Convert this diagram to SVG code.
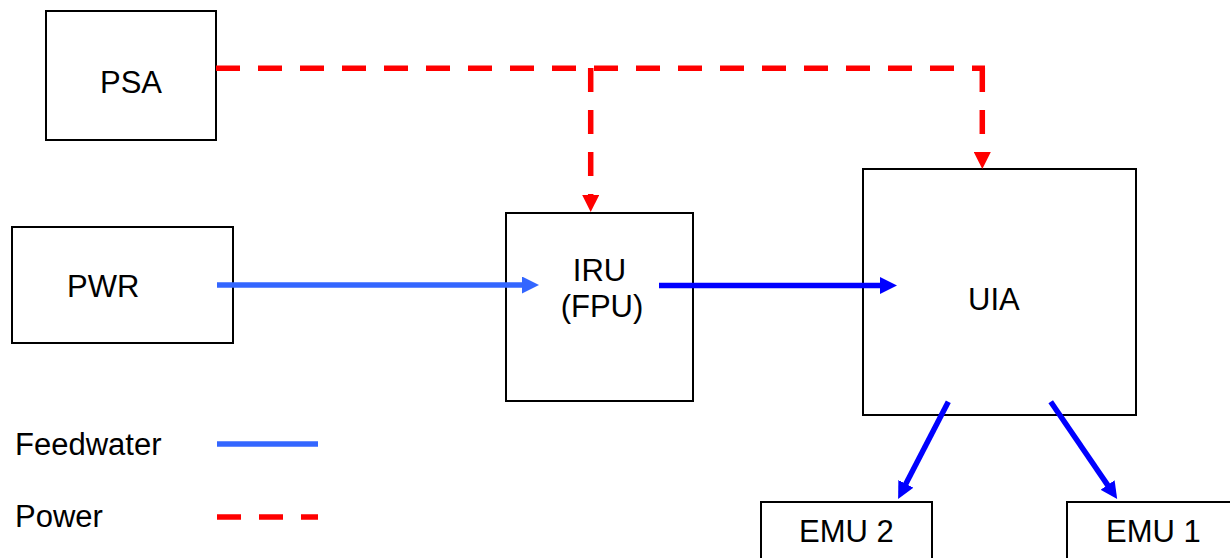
<svg xmlns="http://www.w3.org/2000/svg" width="1230" height="558" viewBox="0 0 1230 558">
<style>
.box{fill:#fff;stroke:#000;stroke-width:2}
.lbl{font-family:"Liberation Sans",Arial,sans-serif;font-size:31px;fill:#000}
.feed{stroke:#3366ff;stroke-width:5.5;fill:none}
.feed2{stroke:#0000ff;stroke-width:5.5;fill:none}
.pwr{stroke:#ff0000;stroke-width:5.5;fill:none;stroke-dasharray:24 18}
</style>
<defs>
<marker id="ahLight" markerUnits="userSpaceOnUse" viewBox="0 0 17 17" refX="2" refY="8.5" markerWidth="17" markerHeight="17" orient="auto"><path d="M0,0 L17,8.5 L0,17 z" fill="#3366ff"/></marker>
<marker id="ahBlue" markerUnits="userSpaceOnUse" viewBox="0 0 17 17" refX="2" refY="8.5" markerWidth="17" markerHeight="17" orient="auto"><path d="M0,0 L17,8.5 L0,17 z" fill="#0000ff"/></marker>
<marker id="ahRed" markerUnits="userSpaceOnUse" viewBox="0 0 17 17" refX="0" refY="8.5" markerWidth="17" markerHeight="17" orient="auto"><path d="M0,0 L17,8.5 L0,17 z" fill="#ff0000"/></marker>
</defs>
<g id="node-psa"><rect class="box" x="46" y="11" width="170" height="129"/><text class="lbl" x="131" y="93" text-anchor="middle">PSA</text></g>
<g id="node-pwr"><rect class="box" x="12" y="227" width="221" height="116"/><text class="lbl" x="67" y="297">PWR</text></g>
<g id="node-iru"><rect class="box" x="506" y="213" width="187" height="188"/><text class="lbl" x="599.5" y="281" text-anchor="middle">IRU</text><text class="lbl" x="602" y="317" text-anchor="middle">(FPU)</text></g>
<g id="node-uia"><rect class="box" x="863" y="169" width="273" height="246"/><text class="lbl" x="968" y="310">UIA</text></g>
<g id="node-emu2"><rect class="box" x="761" y="502" width="171" height="70"/><text class="lbl" x="799" y="542">EMU 2</text></g>
<g id="node-emu1"><rect class="box" x="1067" y="502" width="180" height="70"/><text class="lbl" x="1106" y="542">EMU 1</text></g>
<g id="connectors">
<line class="feed" x1="217" y1="285" x2="524" y2="285" marker-end="url(#ahLight)"/>
<line class="feed2" x1="659" y1="285.5" x2="882" y2="285.5" marker-end="url(#ahBlue)"/>
<line class="feed2" x1="948.3" y1="401.7" x2="905" y2="485.6" marker-end="url(#ahBlue)"/>
<line class="feed2" x1="1050.7" y1="401.7" x2="1108.7" y2="486.6" marker-end="url(#ahBlue)"/>
<line class="pwr" x1="216" y1="68.3" x2="985" y2="68.3"/>
<line class="pwr" x1="982.3" y1="68" x2="982.3" y2="152" marker-end="url(#ahRed)"/>
<line class="pwr" x1="590.7" y1="68" x2="590.7" y2="195" marker-end="url(#ahRed)"/>
</g>
<g id="legend">
<text class="lbl" x="15" y="455">Feedwater</text>
<line class="feed" x1="217" y1="444" x2="318" y2="444"/>
<text class="lbl" x="15" y="527">Power</text>
<line class="pwr" x1="217" y1="517" x2="318" y2="517"/>
</g>
</svg>
